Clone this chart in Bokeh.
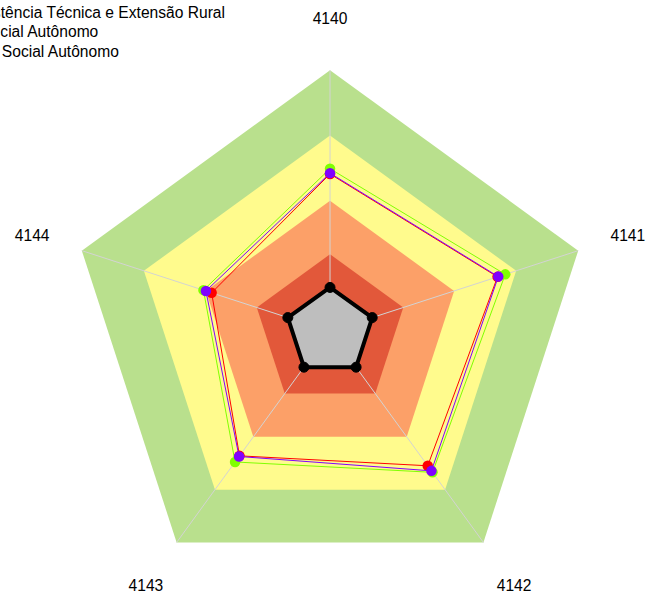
import numpy as np
from bokeh.plotting import figure
from bokeh.models import Range1d
from bokeh.embed import file_html
from bokeh.resources import INLINE
from bokeh.core.properties import value

# ---------------- data ----------------
axis_labels = ["4140", "4141", "4142", "4143", "4144"]

band_levels = [1.0, 0.75, 0.5, 0.295]
band_colors = ["#B9E08D", "#FFFB8D", "#FCA068", "#E2583A"]

series_names = [
    "Assistência Técnica e Extensão Rural",
    "Serviço Social Autônomo",
    "Outro Serviço Social Autônomo",
]
series_colors = ["#80FF00", "#FF0000", "#8000FF"]
ater_values = [0.623, 0.706, 0.668, 0.619, 0.510]
ssa_values = [0.603, 0.675, 0.637, 0.590, 0.477]
outro_values = [0.606, 0.678, 0.661, 0.593, 0.500]
series_values = [ater_values, ssa_values, outro_values]

base_values = [0.168, 0.170, 0.170, 0.170, 0.170]

# ---------------- layout helpers ----------------
W, H = 647, 594
S = H / 610.0                # scale of the whole drawing vs. the 663x610 original
REF_CX, REF_CY = 338.4, 339.7
REF_UNIT = 268.0
CX, CY = REF_CX * S, REF_CY * S
UNIT = REF_UNIT * S
LABEL_R = 1.2
FONT = f"{16 * S:.1f}px"

n = len(axis_labels)
ang = np.pi / 2 - 2 * np.pi * np.arange(n) / n


def xy(vals):
    v = np.asarray(vals, dtype=float)
    return list(v * np.cos(ang)), list(v * np.sin(ang))


def px(sx, sy):
    # position in the original picture's px -> data units
    return (sx - REF_CX) / REF_UNIT, (REF_CY - sy) / REF_UNIT


p = figure(width=W, height=H,
           x_range=Range1d(-CX / UNIT, (W - CX) / UNIT),
           y_range=Range1d(-(H - CY) / UNIT, CY / UNIT),
           output_backend="svg", toolbar_location=None, min_border=0)
p.axis.visible = False
p.grid.visible = False
p.outline_line_color = None
p.background_fill_color = "white"
p.border_fill_color = "white"

# bands
for lvl, col in zip(band_levels, band_colors):
    bx, by = xy([lvl] * n)
    p.patch(bx, by, fill_color=col, line_color=None)

# axis spokes
ox, oy = xy([1.0] * n)
p.segment([0] * n, [0] * n, ox, oy, line_color="#D3D3D3", line_width=1)

# base series (grey filled, black)
bx, by = xy(base_values)
p.patch(bx, by, fill_color="#BEBEBE", line_color="black", line_width=4,
        line_join="round")
p.scatter(bx, by, size=10, fill_color="black", line_color="black")

# coloured series
for vals, col in zip(series_values, series_colors):
    sx, sy = xy(vals)
    p.line(sx + sx[:1], sy + sy[:1], line_color=col, line_width=1)
    p.scatter(sx, sy, size=10.5, fill_color=col, line_color=None)

# axis labels
lx, ly = xy([LABEL_R] * n)
p.text(lx, ly, text=axis_labels,
       text_align="center", text_baseline="middle",
       text_font=value("Liberation Sans"), text_font_size=FONT,
       text_color="black")

# legend (cut off at the left edge, as in the original)
leg_sx = [-38, -77.6, -101]
leg_sy = [12, 32, 52]
leg_x, leg_y = [], []
for sx_, sy_ in zip(leg_sx, leg_sy):
    a, b = px(sx_, sy_)
    leg_x.append(a)
    leg_y.append(b)
p.text(leg_x, leg_y, text=series_names, text_align="left",
       text_baseline="middle", text_font=value("Liberation Sans"),
       text_font_size=FONT, text_color="black")

open("out.html", "w").write(file_html(p, INLINE))
